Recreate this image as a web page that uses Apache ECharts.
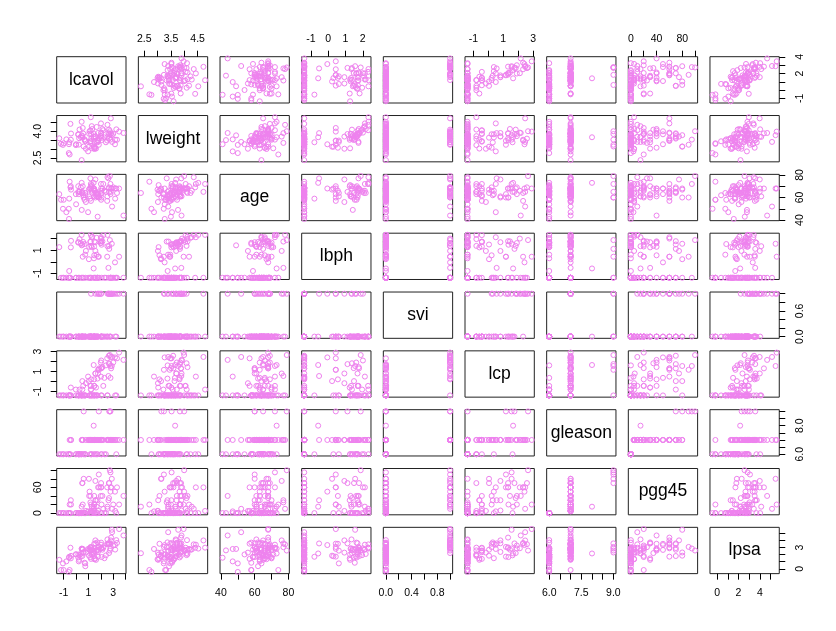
<!DOCTYPE html>
<html>
<head>
<meta charset="utf-8">
<script src="https://cdn.jsdelivr.net/npm/echarts@6/dist/echarts.min.js"></script>
<style>html,body{margin:0;padding:0;background:#fff}#c{width:836px;height:631px}</style>
</head>
<body>
<div id="c"></div>
<script>
// ---- Data (prostate data, 97 observations) ----
const lcavol = [-0.5798185,-0.9942523,-0.5108256,-1.2039728,0.7514161,-1.0498221,0.7371641,0.6931472,-0.7765288,0.2231436,0.2546422,-1.3470736,1.6134299,1.4770487,1.2059708,1.5411591,-0.4155154,2.2884862,-0.5621189,0.1823216,1.1474025,2.0592388,-0.5447272,1.7817091,0.3852624,1.4469190,0.5128236,-0.4004776,1.0402767,2.4096442,0.2851789,0.1823216,1.2753628,0.0099503,-0.0100503,1.3083328,1.4231083,0.4574248,2.6609586,0.7975072,0.6205765,1.4422020,0.5822156,1.7715568,1.4861397,1.6639261,2.7278528,1.1631508,1.7457155,1.2208299,1.0919233,1.6601310,0.5128236,2.1270473,3.1535904,1.2669476,0.9745596,0.4637340,0.5423243,1.0612565,0.4574248,1.9974177,2.7757088,2.0347056,2.0731719,1.4586150,2.0228712,2.1983351,-0.4462871,1.1939225,1.8640801,1.1600209,1.2149127,1.8389611,2.9992262,3.1411305,2.0108950,2.5376572,2.6483002,2.7794402,1.4678743,2.5136561,2.6130067,2.6775910,1.5623463,3.3028493,2.0241931,1.7316555,2.8075938,1.5623463,3.2464910,2.5329028,2.8302678,3.8210036,2.9074474,2.8825636,3.4719665];
const lweight = [2.769459,3.319626,2.691243,3.282789,3.432373,3.228826,3.473518,3.539509,3.539509,3.244544,3.604138,3.598681,3.022861,2.998229,3.442019,3.061052,3.516013,3.649359,3.267666,3.825375,3.419365,3.501043,3.375880,3.451574,3.667400,3.124565,3.719651,3.865979,3.128951,3.375880,4.090169,3.804438,3.037354,3.267666,3.216874,4.119850,3.657131,2.374906,4.085136,3.013081,3.141995,3.682610,3.865979,3.896909,3.409496,3.392829,3.995445,4.035125,3.498022,3.568123,3.993603,4.234107,3.633631,4.121473,3.516013,4.280132,2.865054,3.764682,4.178226,3.851211,4.524502,3.719651,3.524889,3.917011,3.623007,3.836221,3.878466,4.050915,4.408547,4.780383,3.593194,3.341093,3.825375,3.236716,3.849083,3.263849,4.433789,4.354784,3.582129,3.823192,3.070376,3.473518,3.888754,3.838376,3.709907,3.518980,3.731699,3.369018,4.718052,3.695110,4.101817,3.677566,3.876396,3.896909,3.396185,3.773910,3.974998];
const age = [50,58,74,58,62,50,64,58,47,63,65,63,63,67,57,66,70,66,41,70,59,60,59,63,69,68,65,67,67,65,65,65,71,54,63,64,73,64,68,56,60,68,62,61,66,61,79,68,43,70,68,64,64,68,59,66,47,49,70,61,73,63,72,66,64,61,68,72,69,72,60,77,69,60,69,68,72,78,69,63,66,57,77,65,60,64,58,62,65,76,68,61,68,44,52,68,68];
const lbph = [-1.386294,-1.386294,-1.386294,-1.386294,-1.386294,-1.386294,0.615186,1.536867,-1.386294,-1.386294,-1.386294,1.266948,-1.386294,-1.386294,-1.386294,-1.386294,1.244155,-1.386294,-1.386294,1.658228,-1.386294,1.474763,-0.798508,0.438255,1.599388,0.300105,-1.386294,1.816452,0.223144,-1.386294,1.962908,1.704748,1.266948,-1.386294,-1.386294,2.171337,-0.579819,-1.386294,1.373716,0.936093,-1.386294,-1.386294,1.713798,-1.386294,1.749200,0.615186,1.879465,1.713798,-1.386294,1.373716,-1.386294,2.073172,1.492904,1.766442,-1.386294,2.122262,-1.386294,1.423108,0.438255,1.294727,2.326302,1.619388,-1.386294,2.008214,-1.386294,1.321756,1.783391,2.307573,-1.386294,2.326302,-1.386294,1.749200,-1.386294,0.438255,-1.386294,-0.051293,2.122262,2.326302,-1.386294,-1.386294,0.559616,0.438255,-0.527633,1.115142,1.695616,-1.386294,1.638997,-1.386294,-1.386294,0.936093,-1.386294,1.348073,-1.386294,-1.386294,-1.386294,1.558145,0.438255];
const svi = [0,0,0,0,0,0,0,0,0,0,0,0,0,0,0,0,0,0,0,0,0,0,0,0,0,0,0,0,0,0,0,0,0,0,0,0,0,0,1,0,0,0,0,0,0,0,1,0,0,0,0,0,0,0,0,0,0,0,0,0,0,1,0,1,0,0,0,0,0,0,1,0,1,1,1,1,0,0,1,0,0,0,1,0,0,1,0,1,1,1,0,1,1,1,1,1,1];
const lcp = [-1.386294,-1.386294,-1.386294,-1.386294,-1.386294,-1.386294,-1.386294,-1.386294,-1.386294,-1.386294,-1.386294,-1.386294,-0.597837,-1.386294,-0.430783,-1.386294,-0.597837,0.371564,-1.386294,-1.386294,-1.386294,1.348073,-1.386294,1.178655,-1.386294,-1.386294,-0.798508,-1.386294,0.048790,1.619388,-0.798508,-1.386294,-1.386294,-1.386294,-0.798508,-1.386294,1.658228,-1.386294,1.832581,-0.162519,-1.386294,-1.386294,-0.430783,0.810930,-0.430783,-1.386294,2.656757,-0.430783,-1.386294,-0.798508,-1.386294,-1.386294,0.048790,1.446919,-1.386294,-1.386294,0.500775,-1.386294,-1.386294,-1.386294,-1.386294,1.909543,1.558145,2.110213,-1.386294,-0.430783,1.321756,-0.430783,-1.386294,-0.798508,1.321756,-1.386294,0.223144,1.178655,1.909543,2.420368,0.500775,-1.386294,2.583998,0.371564,0.223144,2.327278,0.558616,1.749200,0.810930,2.327278,-1.386294,0.300105,2.463853,0.810930,-1.386294,-1.386294,1.321756,2.169054,2.463853,1.558145,2.904165];
const gleason = [6,6,7,6,6,6,6,6,6,6,6,6,7,7,7,6,7,6,6,6,6,7,6,7,6,6,7,7,7,6,6,6,6,6,6,7,8,7,7,7,9,7,6,7,7,7,9,7,6,6,7,6,7,7,7,7,7,6,7,7,6,7,9,7,6,7,7,7,6,7,7,7,7,9,7,7,7,7,7,7,7,7,7,9,7,7,6,7,7,7,6,7,7,7,7,7,7];
const pgg45 = [0,0,20,0,0,0,0,0,0,0,0,0,30,5,5,0,30,0,0,0,0,20,0,60,0,0,70,20,80,0,0,0,0,0,0,5,15,15,35,5,80,10,0,6,20,15,100,40,0,0,50,0,70,40,5,15,4,0,20,40,0,40,95,60,0,20,70,10,0,5,60,25,20,90,20,50,60,10,70,50,40,60,30,70,30,60,0,30,60,75,0,15,60,40,10,80,20];
const lpsa = [-0.4307829,-0.1625189,-0.1625189,-0.1625189,0.3715636,0.7654678,0.7654678,0.8544153,1.0473190,1.0473190,1.2669476,1.2669476,1.2669476,1.3480731,1.3987169,1.4469190,1.4701758,1.4929041,1.5581446,1.5993876,1.6389967,1.6582281,1.6956156,1.7137979,1.7316555,1.7664417,1.8000583,1.8164520,1.8484548,1.8946169,1.9242487,2.0082140,2.0082140,2.0215476,2.0476928,2.0856721,2.1575593,2.1916535,2.2137539,2.2772673,2.2975726,2.3075726,2.3272777,2.3749058,2.5217206,2.5533438,2.5687881,2.5687881,2.5915164,2.5915164,2.6567569,2.6775910,2.6844403,2.6912431,2.7047113,2.7180005,2.7880929,2.7942279,2.8063861,2.8124102,2.8419982,2.8535925,2.8535925,2.8820035,2.8820035,2.8875901,2.9204698,2.9626924,2.9626924,2.9729753,3.0130809,3.0373539,3.0563569,3.0750055,3.2752562,3.3375474,3.3928291,3.4355988,3.4578927,3.5130369,3.5160131,3.5307626,3.5652984,3.5709402,3.5876769,3.6309855,3.6800909,3.7123518,3.9843437,3.9936030,4.0298060,4.1295508,4.3851468,4.6844434,5.1431245,5.4775090,5.5829322];

const varNames = ['lcavol','lweight','age','lbph','svi','lcp','gleason','pgg45','lpsa'];
const varData  = [lcavol, lweight, age, lbph, svi, lcp, gleason, pgg45, lpsa];

// tick positions and tick labels per variable
const tickVals = [[-1,0,1,2,3,4],[2.5,3,3.5,4,4.5],[40,50,60,70,80],[-1,0,1,2],[0,0.2,0.4,0.6,0.8,1],[-1,0,1,2,3],[6,6.5,7,7.5,8,8.5,9],[0,20,40,60,80,100],[0,1,2,3,4,5]];
const hLabels  = [[-1,1,3],[2.5,3.5,4.5],[40,60,80],[-1,0,1,2],[0,0.4,0.8],[-1,1,3],[6,7.5,9],[0,40,80],[0,2,4]];
const vLabels  = [[-1,2,4],[2.5,4],[40,60,80],[-1,1],[0,0.6],[-1,1,3],[6,8],[0,60],[0,3]];
const decimals = [0,1,0,0,1,0,1,0,0];

// ---- layout ----
const L0 = 56.7, T0 = 56.7, CW = 69.3, RH = 46.3, SX = 81.66, SY = 58.83;
const N = varNames.length;
const FONT = '"Liberation Sans", Arial, sans-serif';
const PINK = '#EE82EE';

function ext(a){ let mn=Math.min(...a), mx=Math.max(...a), r=mx-mn; return [mn-0.04*r, mx+0.04*r]; }
const ranges = varData.map(ext);

const grids=[], xAxes=[], yAxes=[], series=[], gfx=[];
for (let i=0;i<N;i++){
  for (let j=0;j<N;j++){
    const k = grids.length;
    const left = L0 + j*SX, top = T0 + i*SY;
    grids.push({left:left, top:top, width:CW, height:RH, show:true, borderColor:'#222', borderWidth:1, backgroundColor:'transparent', containLabel:false});
    const showTop = (i===0 && j%2===1), showBottom = (i===N-1 && j%2===0);
    const fx = v => v.toFixed(decimals[j]);
    const fy = v => v.toFixed(decimals[i]);
    xAxes.push({type:'value', gridIndex:k, min:ranges[j][0], max:ranges[j][1],
      position: showTop ? 'top' : 'bottom',
      axisLine:{show:false, onZero:false}, splitLine:{show:false},
      axisTick:{show: showTop||showBottom, inside:false, length:6, customValues: tickVals[j], lineStyle:{color:'#000', width:1}},
      axisLabel:{show: showTop||showBottom, customValues: hLabels[j], formatter: fx, color:'#000', fontSize:10.5, fontFamily:FONT, margin: showTop?12:14, hideOverlap:false}
    });
    const showLeft = (j===0 && i%2===1), showRight = (j===N-1 && i%2===0);
    yAxes.push({type:'value', gridIndex:k, min:ranges[i][0], max:ranges[i][1],
      position: showLeft ? 'left' : 'right',
      axisLine:{show:false, onZero:false}, splitLine:{show:false},
      axisTick:{show: showLeft||showRight, inside:false, length:6, customValues: tickVals[i], lineStyle:{color:'#000', width:1}},
      axisLabel:{show: showLeft||showRight, customValues: vLabels[i], formatter: fy, rotate:90, color:'#000', fontSize:10.5, fontFamily:FONT, margin: showLeft?13:15, hideOverlap:false}
    });
    if (i===j){
      gfx.push({type:'text', x: left + CW/2, y: top + RH/2, silent:true,
        style:{text: varNames[i], fill:'#000', font:'17.5px ' + FONT, textAlign:'center', textVerticalAlign:'middle'}});
      continue;
    }
    const xs = varData[j], ys = varData[i];
    const pts = xs.map((v,n)=>[v, ys[n]]);
    series.push({type:'scatter', xAxisIndex:k, yAxisIndex:k, data:pts, symbol:'circle', symbolSize:5,
      itemStyle:{color:'rgba(0,0,0,0)', borderColor:PINK, borderWidth:1, opacity:1},
      emphasis:{disabled:true}, silent:true, clip:false});
  }
}

const chart = echarts.init(document.getElementById('c'), null, {renderer:'canvas'});
chart.setOption({animation:false, backgroundColor:'#fff', grid:grids, xAxis:xAxes, yAxis:yAxes, series:series, graphic:gfx});
</script>
</body>
</html>
